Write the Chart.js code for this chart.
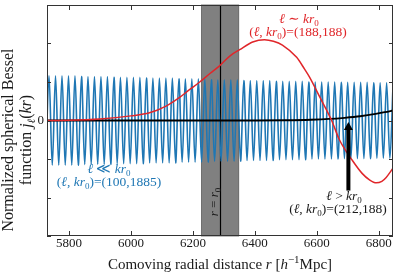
<!DOCTYPE html>
<html>
<head>
<meta charset="utf-8">
<script src="https://cdn.jsdelivr.net/npm/chart.js@4.4.1/dist/chart.umd.min.js"></script>
<style>
  body { margin: 0; background: #fff; }
  canvas { display: block; }
</style>
</head>
<body>
<canvas id="myChart" width="399" height="275"></canvas>
<script>
// x range and ticks
var xMin = 5729, xMax = 6846;
var xTicks = [5800, 6000, 6200, 6400, 6600, 6800];
var yTicks = [-1.5, -1, -0.5, 0, 0.5, 1, 1.5];

// r = r0 line and shaded band
var r0 = 6289;
var band = [6228, 6348];

// l ~ kr0 : (188,188)
var redR = [5729, 5800, 5900, 6000, 6060, 6115, 6157, 6189, 6222, 6255, 6286, 6320, 6351, 6393, 6431, 6460,
            6489, 6535, 6560, 6577, 6609, 6648, 6673, 6715, 6747, 6770, 6792, 6810, 6824, 6846];
var redJ = [0.0, 0.003, 0.02, 0.06, 0.10, 0.19, 0.30, 0.40, 0.50, 0.61, 0.71, 0.84, 0.92, 1.02, 1.05, 1.03,
            0.98, 0.82, 0.67, 0.56, 0.31, 0.0, -0.25, -0.52, -0.69, -0.77, -0.81, -0.79, -0.74, -0.62];

// l > kr0 : (212,188)
var blackR = [5729, 6400, 6500, 6580, 6640, 6690, 6740, 6790, 6820, 6846];
var blackJ = [0.0, 0.0, 0.003, 0.01, 0.02, 0.035, 0.055, 0.085, 0.108, 0.13];

// l << kr0 : (100,1885), peaks and troughs
var blueR = [5725.0, 5735.5, 5746.0, 5756.5, 5766.9, 5777.4, 5787.9, 5798.4, 5808.9, 5819.3, 5829.8,
             5840.3, 5850.8, 5861.3, 5871.7, 5882.2, 5892.7, 5903.2, 5913.7, 5924.1, 5934.6,
             5945.1, 5955.6, 5966.1, 5976.5, 5987.0, 5997.5, 6008.0, 6018.5, 6028.9, 6039.4,
             6049.9, 6060.4, 6070.9, 6081.3, 6091.8, 6102.3, 6112.8, 6123.3, 6133.7, 6144.2,
             6154.7, 6165.2, 6175.7, 6186.1, 6196.6, 6207.1, 6217.6, 6228.1, 6238.5, 6249.0,
             6259.5, 6270.0, 6280.5, 6290.9, 6301.4, 6311.9, 6322.4, 6332.9, 6343.3, 6353.8,
             6364.3, 6374.8, 6385.3, 6395.7, 6406.2, 6416.7, 6427.2, 6437.7, 6448.1, 6458.6,
             6469.1, 6479.6, 6490.1, 6500.5, 6511.0, 6521.5, 6532.0, 6542.5, 6552.9, 6563.4,
             6573.9, 6584.4, 6594.9, 6605.3, 6615.8, 6626.3, 6636.8, 6647.3, 6657.7, 6668.2,
             6678.7, 6689.2, 6699.7, 6710.1, 6720.6, 6731.1, 6741.6, 6752.1, 6762.5, 6773.0,
             6783.5, 6794.0, 6804.5, 6814.9, 6825.4, 6835.9, 6846.4];
var blueJ = [-0.58, 0.58, -0.58, 0.58, -0.58, 0.58, -0.58, 0.58, -0.58, 0.58, -0.58,
             0.57, -0.57, 0.57, -0.57, 0.57, -0.57, 0.57, -0.57, 0.57, -0.57,
             0.56, -0.56, 0.56, -0.56, 0.56, -0.56, 0.56, -0.56, 0.56, -0.56,
             0.55, -0.55, 0.55, -0.55, 0.55, -0.55, 0.55, -0.55, 0.55, -0.55,
             0.54, -0.54, 0.54, -0.54, 0.54, -0.54, 0.54, -0.54, 0.54, -0.54,
             0.53, -0.53, 0.53, -0.53, 0.53, -0.53, 0.53, -0.53, 0.53, -0.53,
             0.52, -0.52, 0.52, -0.52, 0.52, -0.52, 0.52, -0.52, 0.52, -0.52,
             0.51, -0.51, 0.51, -0.51, 0.51, -0.51, 0.51, -0.51, 0.51, -0.51,
             0.50, -0.50, 0.50, -0.50, 0.50, -0.50, 0.50, -0.50, 0.50, -0.50,
             0.495, -0.495, 0.495, -0.495, 0.495, -0.495, 0.495, -0.495, 0.495, -0.495,
             0.49, -0.49, 0.49, -0.49, 0.49, -0.49, 0.49];

// arrow pointing at the l > kr0 curve
var arrowX = 6702, arrowFrom = -0.91, arrowTo = -0.02;

var RED = '#e0262a', BLUE = '#1f77b4', INK = '#1a1a1a';
var FONT = '"Liberation Serif", "DejaVu Serif", serif';

function toXY(xs, ys) {
    var out = [];
    for (var i = 0; i < xs.length; i++) out.push({ x: xs[i], y: ys[i] });
    return out;
}

function partFont(p, size) {
    var s = (p.sub || p.sup) ? Math.round(size * 0.7) : size;
    return (p.i ? 'italic ' : '') + s + 'px ' + FONT;
}

function drawRich(ctx, parts, cx, baseY, size, color) {
    var w = 0;
    parts.forEach(function (p) { ctx.font = partFont(p, size); w += ctx.measureText(p.t).width; });
    var xx = cx - w / 2;
    ctx.fillStyle = color;
    ctx.textAlign = 'left';
    ctx.textBaseline = 'alphabetic';
    parts.forEach(function (p) {
        ctx.font = partFont(p, size);
        var dy = p.sub ? size * 0.22 : (p.sup ? -size * 0.38 : 0);
        ctx.fillText(p.t, xx, baseY + dy);
        xx += ctx.measureText(p.t).width;
    });
}

function pairLabel(l, k) {
    return [{ t: '(' }, { t: 'ℓ', i: 1 }, { t: ', ' }, { t: 'kr', i: 1 }, { t: '0', sub: 1 }, { t: ')=(' + l + ',' + k + ')' }];
}

var decor = {
    id: 'decor',
    beforeDatasetsDraw: function (chart) {
        var ctx = chart.ctx, a = chart.chartArea, x = chart.scales.x;
        var x0 = x.getPixelForValue(band[0]), x1 = x.getPixelForValue(band[1]);
        ctx.save();
        ctx.fillStyle = '#808080';
        ctx.fillRect(x0, a.top, x1 - x0, a.bottom - a.top);
        ctx.strokeStyle = '#5a5a5a';
        ctx.lineWidth = 0.8;
        ctx.strokeRect(x0, a.top, x1 - x0, a.bottom - a.top);
        var xr = Math.round(x.getPixelForValue(r0)) + 0.5;
        ctx.strokeStyle = '#000';
        ctx.lineWidth = 1.2;
        ctx.beginPath();
        ctx.moveTo(xr, a.top);
        ctx.lineTo(xr, a.bottom);
        ctx.stroke();
        ctx.restore();
    },
    afterDatasetsDraw: function (chart) {
        var ctx = chart.ctx, a = chart.chartArea, x = chart.scales.x, y = chart.scales.y;
        ctx.save();

        // arrow
        var ax = x.getPixelForValue(arrowX);
        var yFrom = y.getPixelForValue(arrowFrom), yTo = y.getPixelForValue(arrowTo);
        ctx.strokeStyle = '#000';
        ctx.fillStyle = '#000';
        ctx.lineWidth = 4;
        ctx.beginPath();
        ctx.moveTo(ax, yFrom);
        ctx.lineTo(ax, yTo + 7);
        ctx.stroke();
        ctx.beginPath();
        ctx.moveTo(ax, yTo);
        ctx.lineTo(ax - 4.5, yTo + 8);
        ctx.lineTo(ax + 4.5, yTo + 8);
        ctx.closePath();
        ctx.fill();

        // labels
        var fs = 13.5;
        drawRich(ctx, [{ t: 'ℓ', i: 1 }, { t: ' ∼ ' }, { t: 'kr', i: 1 }, { t: '0', sub: 1 }], 299, 23, fs, RED);
        drawRich(ctx, pairLabel(188, 188), 298, 36, fs, RED);
        drawRich(ctx, [{ t: 'ℓ', i: 1 }, { t: ' ≪ ' }, { t: 'kr', i: 1 }, { t: '0', sub: 1 }], 109, 173, fs, BLUE);
        drawRich(ctx, pairLabel(100, 1885), 109, 186, fs, BLUE);
        drawRich(ctx, [{ t: 'ℓ', i: 1 }, { t: ' > ' }, { t: 'kr', i: 1 }, { t: '0', sub: 1 }], 344, 200, fs, INK);
        drawRich(ctx, pairLabel(212, 188), 338, 213, fs, INK);

        // r = r0 inside the band
        ctx.save();
        ctx.translate(219, 202);
        ctx.rotate(-Math.PI / 2);
        drawRich(ctx, [{ t: 'r', i: 1 }, { t: ' = ' }, { t: 'r', i: 1 }, { t: '0', sub: 1 }], 0, -1, 13, INK);
        ctx.restore();

        // frame and inward ticks
        ctx.strokeStyle = '#333';
        ctx.lineWidth = 1;
        ctx.strokeRect(a.left + 0.5, a.top + 0.5, a.right - a.left - 1, a.bottom - a.top - 1);
        ctx.beginPath();
        xTicks.forEach(function (v) {
            var px = Math.round(x.getPixelForValue(v)) + 0.5;
            ctx.moveTo(px, a.bottom); ctx.lineTo(px, a.bottom - 5);
            ctx.moveTo(px, a.top); ctx.lineTo(px, a.top + 5);
        });
        yTicks.forEach(function (v) {
            var py = Math.round(y.getPixelForValue(v)) + 0.5;
            ctx.moveTo(a.left, py); ctx.lineTo(a.left + 4, py);
            ctx.moveTo(a.right, py); ctx.lineTo(a.right - 4, py);
        });
        ctx.stroke();

        // only the zero tick is labelled on y
        ctx.fillStyle = INK;
        ctx.font = '13px ' + FONT;
        ctx.textAlign = 'right';
        ctx.textBaseline = 'middle';
        ctx.fillText('0', a.left - 3, y.getPixelForValue(0));

        // axis titles
        drawRich(ctx, [{ t: 'Comoving radial distance ' }, { t: 'r', i: 1 }, { t: ' [' }, { t: 'h', i: 1 },
                       { t: '−1', sup: 1 }, { t: 'Mpc]' }], (a.left + a.right) / 2, 269, 15, INK);
        ctx.save();
        ctx.translate(0, 140);
        ctx.rotate(-Math.PI / 2);
        drawRich(ctx, [{ t: 'Normalized spherical Bessel' }], 0, 13, 16, INK);
        drawRich(ctx, [{ t: 'function ' }, { t: 'j', i: 1 }, { t: 'ℓ', i: 1, sub: 1 }, { t: '(' }, { t: 'kr', i: 1 }, { t: ')' }], 0, 31, 16, INK);
        ctx.restore();

        ctx.restore();
    }
};

var ctx = document.getElementById('myChart');
var myChart = new Chart(ctx, {
    type: 'line',
    data: {
        datasets: [{
            label: 'l ~ kr0',
            data: toXY(redR, redJ),
            borderColor: RED,
            borderWidth: 1.5,
            pointRadius: 0,
            cubicInterpolationMode: 'monotone',
            order: 1
        }, {
            label: 'l > kr0',
            data: toXY(blackR, blackJ),
            borderColor: '#000',
            borderWidth: 1.8,
            pointRadius: 0,
            cubicInterpolationMode: 'monotone',
            order: 2
        }, {
            label: 'l << kr0',
            data: toXY(blueR, blueJ),
            borderColor: BLUE,
            borderWidth: 1.6,
            pointRadius: 0,
            tension: 0.35,
            order: 3
        }]
    },
    options: {
        responsive: false,
        animation: false,
        devicePixelRatio: 1,
        layout: { padding: { top: 5, right: 6, left: 0, bottom: 0 } },
        plugins: { legend: { display: false }, tooltip: { enabled: false } },
        scales: {
            x: {
                type: 'linear',
                min: xMin,
                max: xMax,
                afterBuildTicks: function (s) { s.ticks = xTicks.map(function (v) { return { value: v }; }); },
                afterFit: function (s) { s.height = 39; },
                grid: { display: false, drawTicks: false },
                border: { display: false },
                ticks: {
                    autoSkip: false,
                    maxRotation: 0,
                    padding: 0,
                    color: INK,
                    font: { family: FONT, size: 13 },
                    callback: function (v) { return String(v); }
                }
            },
            y: {
                min: -1.5,
                max: 1.5,
                afterBuildTicks: function (s) { s.ticks = yTicks.map(function (v) { return { value: v }; }); },
                afterFit: function (s) { s.width = 47; },
                grid: { display: false, drawTicks: false },
                border: { display: false },
                ticks: { display: false }
            }
        }
    },
    plugins: [decor]
});
</script>
</body>
</html>
